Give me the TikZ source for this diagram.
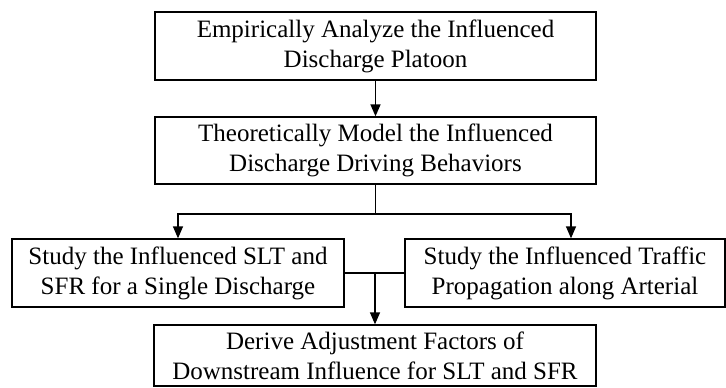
\documentclass[tikz,border=0pt]{standalone}
\usepackage{fontspec}
\setmainfont{Liberation Serif}
\usetikzlibrary{arrows.meta}
\begin{document}
\begin{tikzpicture}[x=1pt,y=-1pt,
  box/.style={draw, line width=1.3pt, align=center, inner sep=0pt,
    font=\fontsize{25}{30}\selectfont},
  conn/.style={line width=1.3pt},
  arr/.style={conn, -{Triangle[width=10pt,length=12pt]}}]
\useasboundingbox (0,0) rectangle (726,388);
\node[box, minimum width=441pt, minimum height=68pt] (a) at (375.5,46)
  {Empirically Analyze the Influenced\\Discharge Platoon};
\node[box, minimum width=441pt, minimum height=67pt] (b) at (375.5,150.5)
  {Theoretically Model the Influenced\\Discharge Driving Behaviors};
\node[box, minimum width=332pt, minimum height=68pt] (c) at (178,273)
  {Study the Influenced SLT and\\SFR for a Single Discharge};
\node[box, minimum width=320pt, minimum height=68pt] (d) at (565,273)
  {Study the Influenced Traffic\\Propagation along Arterial};
\node[box, minimum width=442pt, minimum height=61pt] (e) at (375,355.5)
  {Derive Adjustment Factors of\\Downstream Influence for SLT and SFR};
\coordinate (j) at (375.5,214);
\draw[arr] (a.south) -- (b.north);
\draw[conn] (b.south) -- (j);
\draw[arr] (j) -| (c.north);
\draw[arr] (j) -| ([xshift=6pt]d.north);
\draw[conn] (c.east) -- (d.west);
\draw[arr] (c.east -| e.north) -- (e.north);
\end{tikzpicture}
\end{document}
